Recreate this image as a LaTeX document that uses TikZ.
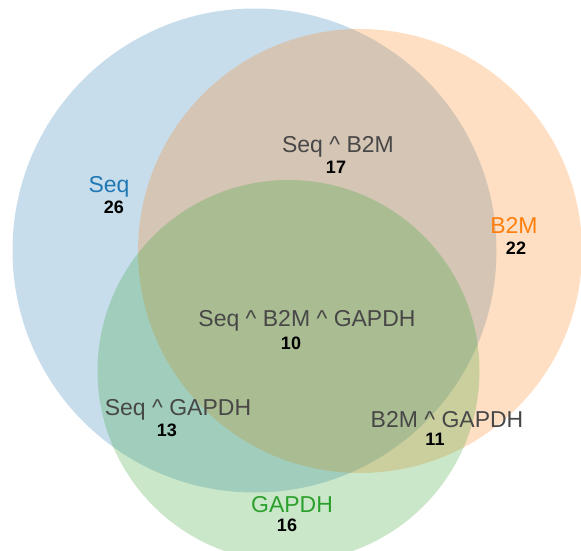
\documentclass[tikz,border=0pt]{standalone}
\usepackage{fontspec}
\setmainfont{Liberation Sans}
\definecolor{seqc}{HTML}{1F77B4}
\definecolor{b2mc}{HTML}{FF7F0E}
\definecolor{gapc}{HTML}{2CA02C}
\definecolor{interc}{HTML}{474747}
\tikzset{
  setfill/.style={fill=#1, fill opacity=0.25, draw=none},
  setlabel/.style={anchor=base, inner sep=0pt, text=#1, font=\fontsize{23}{27}\selectfont},
  interlabel/.style={anchor=base, inner sep=0pt, text=interc, font=\fontsize{23}{27}\selectfont},
  countlabel/.style={anchor=base, inner sep=0pt, text=black, font=\fontsize{18}{21}\selectfont\bfseries}
}
\begin{document}
\begin{tikzpicture}[x=1pt, y=-1pt]
\useasboundingbox (0,0) rectangle (581,551);
\begin{scope}
\clip (0,0) rectangle (581,551);
\fill[setfill=seqc] (254.5,250.5) circle[radius=242];
\fill[setfill=b2mc] (360,251) circle[radius=222];
\fill[setfill=gapc] (288.5,371) circle[radius=191];
\end{scope}
\node[setlabel=seqc] (lseq) at (109,192.5) {Seq};
\node[countlabel] (nseq) at (114,213.5) {26};
\node[setlabel=b2mc] (lb2m) at (514,233.3) {B2M};
\node[countlabel] (nb2m) at (516,254) {22};
\node[setlabel=gapc] (lgap) at (292,512.7) {GAPDH};
\node[countlabel] (ngap) at (287,531) {16};
\node[interlabel] (lsb) at (338,152.3) {Seq \^{} B2M};
\node[countlabel] (nsb) at (336,173.5) {17};
\node[interlabel] (lsbg) at (307,326.7) {Seq \^{} B2M \^{} GAPDH};
\node[countlabel] (nsbg) at (291,349.5) {10};
\node[interlabel] (lsg) at (178,415.7) {Seq \^{} GAPDH};
\node[countlabel] (nsg) at (167,436) {13};
\node[interlabel] (lbg) at (447,427.5) {B2M \^{} GAPDH};
\node[countlabel] (nbg) at (435,445) {11};
\end{tikzpicture}
\end{document}
